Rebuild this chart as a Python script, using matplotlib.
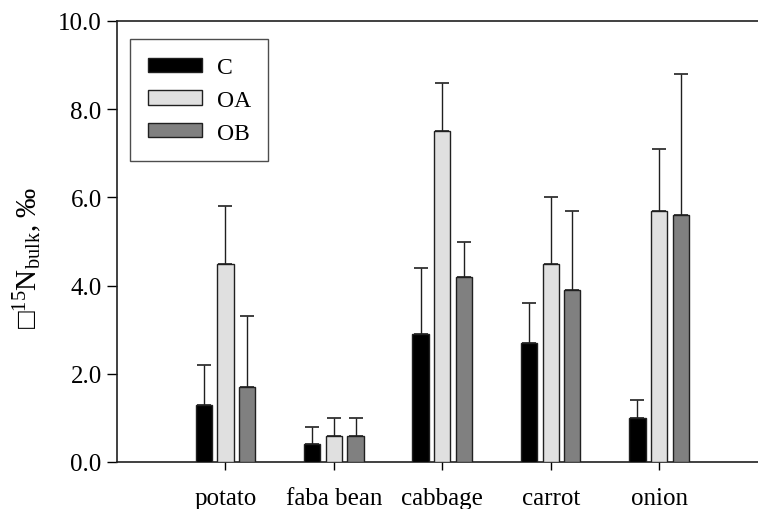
import matplotlib
matplotlib.use('Agg')
import matplotlib.pyplot as plt
import numpy as np

crops = ['potato', 'faba bean', 'cabbage', 'carrot', 'onion']
series = ['C', 'OA', 'OB']
c_vals = [1.3, 0.4, 2.9, 2.7, 1.0]
oa_vals = [4.5, 0.6, 7.5, 4.5, 5.7]
ob_vals = [1.7, 0.6, 4.2, 3.9, 5.6]
c_top = [2.2, 0.8, 4.4, 3.6, 1.4]
oa_top = [5.8, 1.0, 8.6, 6.0, 7.1]
ob_top = [3.3, 1.0, 5.0, 5.7, 8.8]

plt.rcParams['font.family'] = ['Liberation Serif', 'DejaVu Sans']
plt.rcParams['mathtext.fontset'] = 'custom'
plt.rcParams['mathtext.rm'] = 'Liberation Serif'
plt.rcParams['mathtext.it'] = 'Liberation Serif:italic'

fig = plt.figure(figsize=(7.58, 5.10), dpi=100)
ax = fig.add_axes([117/758, 47/510, (767.5-117)/758, (463-22)/510])

x = np.arange(1, len(crops)+1)
colors = ['#000000', '#e0e0e0', '#808080']
vals = [c_vals, oa_vals, ob_vals]
tops = [c_top, oa_top, ob_top]
for i, (name, v, t, col) in enumerate(zip(series, vals, tops, colors)):
    pos = x + (i-1)*0.2
    err = np.array(t) - np.array(v)
    ax.bar(pos, v, width=0.15, color=col, edgecolor='#202020', linewidth=1.0, label=name, zorder=3)
    ax.errorbar(pos, v, yerr=[np.zeros_like(err), err], fmt='none', ecolor='#202020',
                elinewidth=1.0, capsize=5, capthick=1.2, zorder=2)

ax.set_xlim(0, 6)
ax.set_ylim(0, 10)
ax.set_yticks(np.arange(0, 10.1, 2))
ax.set_yticklabels(['%.1f' % t for t in np.arange(0, 10.1, 2)])
ax.set_xticks(x)
ax.set_xticklabels(crops)
ax.tick_params(axis='y', direction='out', length=7, width=1, labelsize=18, pad=4)
ax.tick_params(axis='x', direction='out', length=6, width=1, labelsize=18, pad=12)
ax.spines['right'].set_visible(False)
for s in ['left', 'top', 'bottom']:
    ax.spines[s].set_linewidth(1.2)
    ax.spines[s].set_color('#202020')

ax.set_ylabel('\u25a1$^{15}$N$_{\\mathrm{bulk}}$, \u2030', fontsize=21)
ax.yaxis.set_label_coords(-0.112, 0.465)

leg = ax.legend(loc='upper left', bbox_to_anchor=(0.006, 0.98), frameon=True, fancybox=False,
                edgecolor='#202020', fontsize=17, handlelength=2.3, handleheight=0.55,
                borderpad=0.75, labelspacing=0.5, handletextpad=0.6, borderaxespad=0.4)
leg.get_frame().set_linewidth(1.0)

fig.savefig('out.png', dpi=100)
